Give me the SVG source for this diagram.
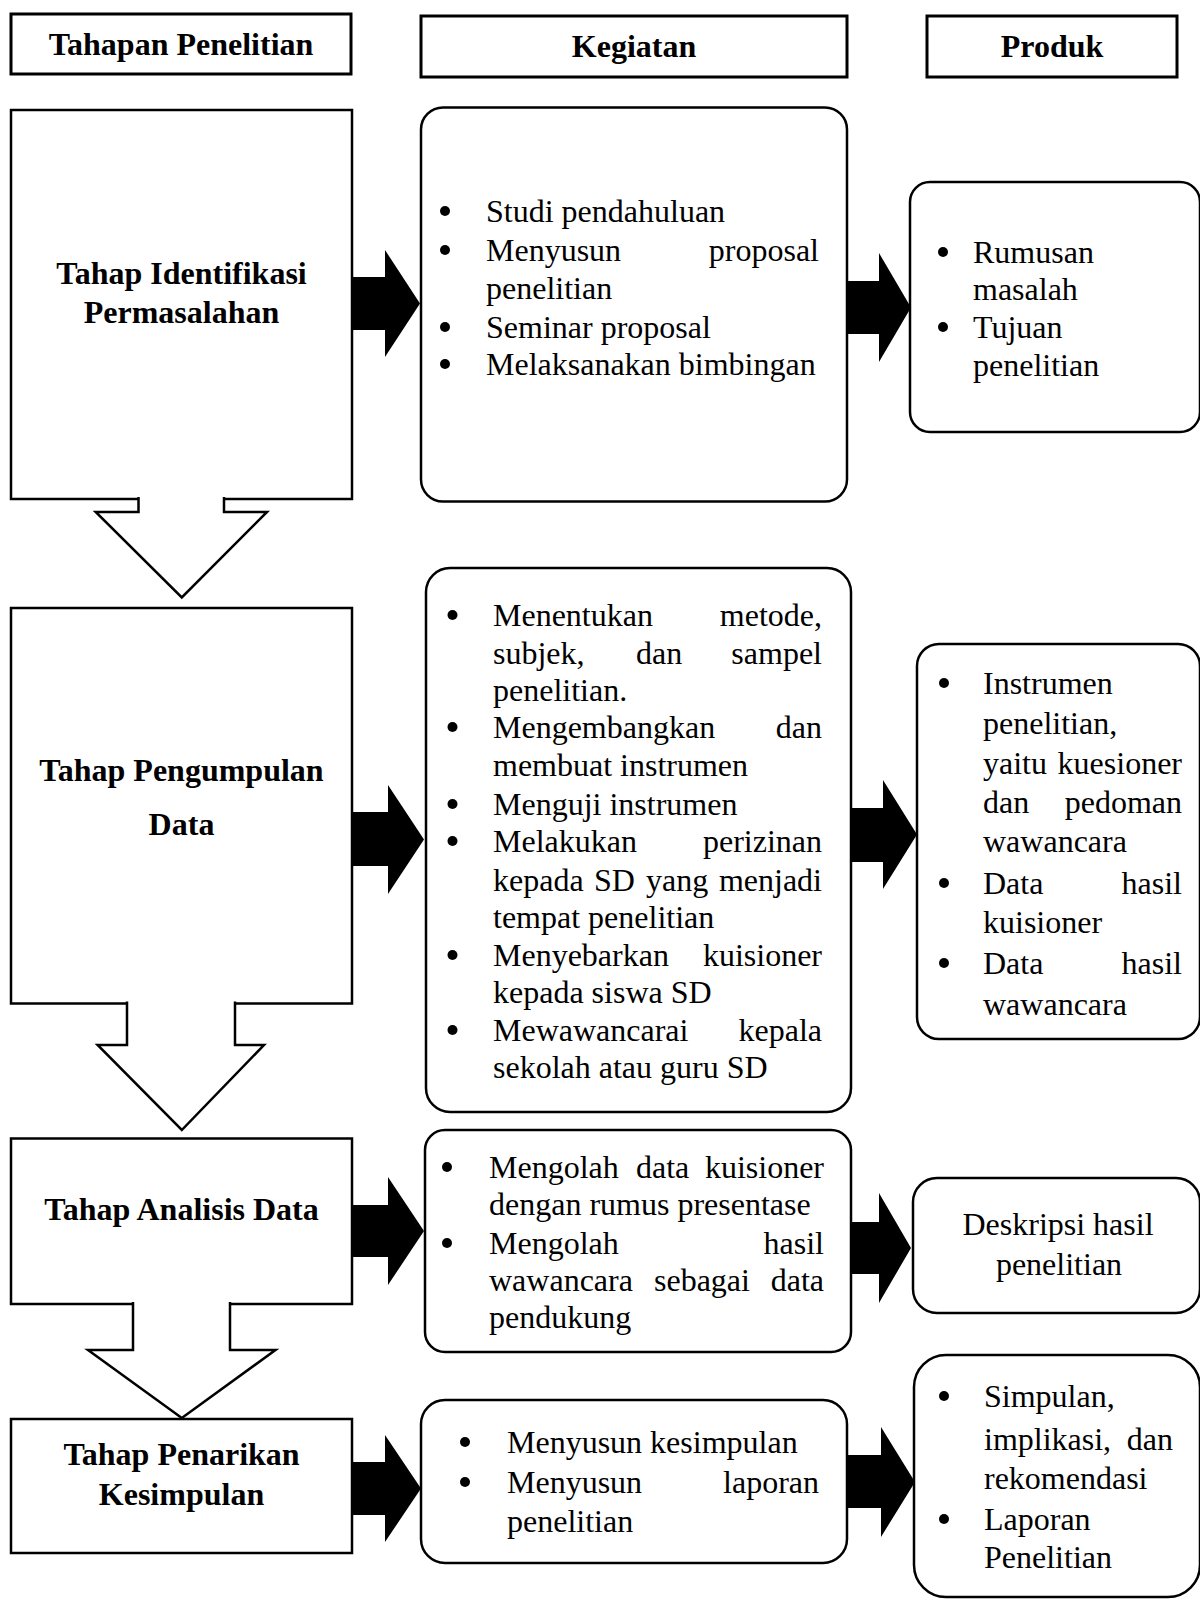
<svg xmlns="http://www.w3.org/2000/svg" width="1200" height="1600" viewBox="0 0 1200 1600">
<style>
.hdr{fill:#fff;stroke:#000;stroke-width:3}
.box{fill:#fff;stroke:#000;stroke-width:2.5}
.rbox{fill:#fff;stroke:#000;stroke-width:2.5}
.b{font-family:"Liberation Serif","Times New Roman",serif;font-weight:bold;font-size:32px;fill:#000;text-anchor:middle}
.t{font-family:"Liberation Serif","Times New Roman",serif;font-size:32px;fill:#000}
.e{text-anchor:end}
.m{text-anchor:middle}
.blk{fill:#000;stroke:none}
.down{fill:#fff;stroke:#000;stroke-width:2.5;stroke-linejoin:miter}
</style>
<defs>
<circle id="dot" r="5" fill="#000"/>
</defs>
<rect width="1200" height="1600" fill="#fff"/>

<g id="headers">
<g id="h-tahapan"><rect class="hdr" x="11" y="14" width="340" height="60"/><text class="b" x="181" y="55">Tahapan Penelitian</text></g>
<g id="h-kegiatan"><rect class="hdr" x="421" y="16" width="426" height="61"/><text class="b" x="634" y="57">Kegiatan</text></g>
<g id="h-produk"><rect class="hdr" x="927" y="16" width="250" height="61"/><text class="b" x="1052" y="57">Produk</text></g>
</g>

<g id="connectors">
<path class="blk" d="M352,277 H385 V250 L420,303.5 L385,357 V330 H352 Z"/>
<path class="blk" d="M352,812 H388 V785 L424,839.5 L388,894 V866 H352 Z"/>
<path class="blk" d="M352,1205 H388 V1177 L424,1231 L388,1285 V1257 H352 Z"/>
<path class="blk" d="M352,1462 H385 V1435 L421,1488.5 L385,1542 V1515 H352 Z"/>
<path class="blk" d="M847,281 H879 V253 L911,307.5 L879,362 V334 H847 Z"/>
<path class="blk" d="M851,808 H883 V780 L917,834.5 L883,889 V862 H851 Z"/>
<path class="blk" d="M851,1222 H879 V1193 L911,1248 L879,1303 V1274 H851 Z"/>
<path class="blk" d="M847,1455 H881 V1427 L915,1482 L881,1537 V1508 H847 Z"/>
</g>

<g id="stage1">
<rect class="box" x="11" y="110" width="341" height="389"/>
<text class="b" x="181.5" y="284">Tahap Identifikasi</text>
<text class="b" x="181.5" y="323">Permasalahan</text>
</g>
<g id="stage2">
<rect class="box" x="11" y="608" width="341" height="395.5"/>
<text class="b" x="181.5" y="781">Tahap Pengumpulan</text>
<text class="b" x="181.5" y="835">Data</text>
</g>
<g id="stage3">
<rect class="box" x="11" y="1138.5" width="341" height="165.5"/>
<text class="b" x="181.5" y="1220">Tahap Analisis Data</text>
</g>
<g id="stage4">
<rect class="box" x="11" y="1419" width="341" height="134"/>
<text class="b" x="181.5" y="1465">Tahap Penarikan</text>
<text class="b" x="181.5" y="1505">Kesimpulan</text>
</g>

<g id="down-arrows">
<path class="down" d="M138.5,497 V512 H95.7 L181.8,597.5 L267,512 H224 V497"/>
<path class="down" d="M127,1001.5 V1045 H97.6 L181.8,1130 L264,1045 H235 V1001.5"/>
<path class="down" d="M133,1302 V1350 H88 L181.8,1418 L275.5,1350 H230 V1302"/>
</g>

<g id="kegiatan1">
<rect class="rbox" x="421" y="107.5" width="426" height="394" rx="22"/>
<use href="#dot" x="445" y="211"/><text class="t" x="486" y="222">Studi pendahuluan</text>
<use href="#dot" x="445" y="250"/><text class="t" x="486" y="261">Menyusun</text><text class="t e" x="819" y="261">proposal</text>
<text class="t" x="486" y="299">penelitian</text>
<use href="#dot" x="445" y="327"/><text class="t" x="486" y="338">Seminar proposal</text>
<use href="#dot" x="445" y="364"/><text class="t" x="486" y="375">Melaksanakan bimbingan</text>
</g>

<g id="kegiatan2">
<rect class="rbox" x="426" y="568" width="425" height="544" rx="24"/>
<use href="#dot" x="452.5" y="615"/><text class="t" x="493" y="626">Menentukan</text><text class="t e" x="822" y="626">metode,</text>
<text class="t" x="493" y="664">subjek,</text><text class="t" x="636" y="664">dan</text><text class="t e" x="822" y="664">sampel</text>
<text class="t" x="493" y="701">penelitian.</text>
<use href="#dot" x="452.5" y="727"/><text class="t" x="493" y="738">Mengembangkan</text><text class="t e" x="822" y="738">dan</text>
<text class="t" x="493" y="776">membuat instrumen</text>
<use href="#dot" x="452.5" y="804"/><text class="t" x="493" y="815">Menguji instrumen</text>
<use href="#dot" x="452.5" y="841"/><text class="t" x="493" y="852">Melakukan</text><text class="t e" x="822" y="852">perizinan</text>
<text class="t" x="493" y="891">kepada</text><text class="t" x="594" y="891">SD</text><text class="t" x="646" y="891">yang</text><text class="t e" x="822" y="891">menjadi</text>
<text class="t" x="493" y="928">tempat penelitian</text>
<use href="#dot" x="452.5" y="955"/><text class="t" x="493" y="966">Menyebarkan</text><text class="t e" x="822" y="966">kuisioner</text>
<text class="t" x="493" y="1003">kepada siswa SD</text>
<use href="#dot" x="452.5" y="1030"/><text class="t" x="493" y="1041">Mewawancarai</text><text class="t e" x="822" y="1041">kepala</text>
<text class="t" x="493" y="1078">sekolah atau guru SD</text>
</g>

<g id="kegiatan3">
<rect class="rbox" x="425" y="1130" width="426" height="222" rx="20"/>
<use href="#dot" x="447" y="1167"/><text class="t" x="489" y="1178">Mengolah</text><text class="t" x="636" y="1178">data</text><text class="t e" x="824" y="1178">kuisioner</text>
<text class="t" x="489" y="1215">dengan rumus presentase</text>
<use href="#dot" x="447" y="1243"/><text class="t" x="489" y="1254">Mengolah</text><text class="t e" x="824" y="1254">hasil</text>
<text class="t" x="489" y="1291">wawancara</text><text class="t" x="654" y="1291">sebagai</text><text class="t e" x="824" y="1291">data</text>
<text class="t" x="489" y="1328">pendukung</text>
</g>

<g id="kegiatan4">
<rect class="rbox" x="421" y="1400" width="426" height="163" rx="24"/>
<use href="#dot" x="465" y="1442"/><text class="t" x="507" y="1453">Menyusun kesimpulan</text>
<use href="#dot" x="465" y="1482"/><text class="t" x="507" y="1493">Menyusun</text><text class="t e" x="819" y="1493">laporan</text>
<text class="t" x="507" y="1532">penelitian</text>
</g>

<g id="produk1">
<rect class="rbox" x="910" y="182" width="290" height="250" rx="20"/>
<use href="#dot" x="943" y="252"/><text class="t" x="973" y="263">Rumusan</text>
<text class="t" x="973" y="300">masalah</text>
<use href="#dot" x="943" y="327"/><text class="t" x="973" y="338">Tujuan</text>
<text class="t" x="973" y="376">penelitian</text>
</g>

<g id="produk2">
<rect class="rbox" x="917" y="644" width="283" height="395" rx="22"/>
<use href="#dot" x="944" y="683"/><text class="t" x="983" y="694">Instrumen</text>
<text class="t" x="983" y="734">penelitian,</text>
<text class="t" x="983" y="774">yaitu</text><text class="t e" x="1182" y="774">kuesioner</text>
<text class="t" x="983" y="813">dan</text><text class="t e" x="1182" y="813">pedoman</text>
<text class="t" x="983" y="852">wawancara</text>
<use href="#dot" x="944" y="883"/><text class="t" x="983" y="894">Data</text><text class="t e" x="1182" y="894">hasil</text>
<text class="t" x="983" y="933">kuisioner</text>
<use href="#dot" x="944" y="963"/><text class="t" x="983" y="974">Data</text><text class="t e" x="1182" y="974">hasil</text>
<text class="t" x="983" y="1015">wawancara</text>
</g>

<g id="produk3">
<rect class="rbox" x="913" y="1178" width="287" height="135" rx="24"/>
<text class="t m" x="1058" y="1235">Deskripsi hasil</text>
<text class="t m" x="1059" y="1275">penelitian</text>
</g>

<g id="produk4">
<rect class="rbox" x="914" y="1355" width="286" height="242" rx="32"/>
<use href="#dot" x="944" y="1396"/><text class="t" x="984" y="1407">Simpulan,</text>
<text class="t" x="984" y="1450">implikasi,</text><text class="t e" x="1173" y="1450">dan</text>
<text class="t" x="984" y="1489">rekomendasi</text>
<use href="#dot" x="944" y="1519"/><text class="t" x="984" y="1530">Laporan</text>
<text class="t" x="984" y="1568">Penelitian</text>
</g>
</svg>
